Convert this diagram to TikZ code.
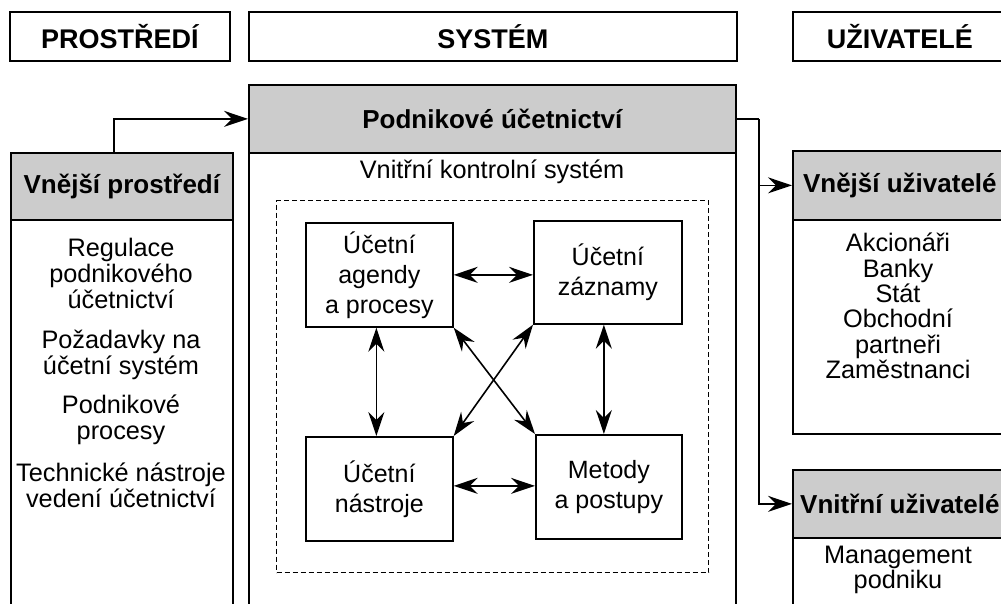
\documentclass[tikz,border=0pt]{standalone}
\usepackage{fontspec}
\setmainfont{Liberation Sans}
\usetikzlibrary{arrows.meta}
\tikzset{
  bighead/.tip={Stealth[length=24pt,width=16pt,inset=8pt]},
}
\begin{document}
\begin{tikzpicture}[x=1pt,y=-1pt,
  box/.style={draw, line width=1.7pt, anchor=north west, inner sep=0pt, fill=white},
  head/.style={box, fill=gray!40, font=\fontsize{26}{30}\selectfont\bfseries},
  title/.style={box, font=\fontsize{27}{30}\selectfont\bfseries},
  txt/.style={align=center, font=\fontsize{25.3}{26}\selectfont},
  itxt/.style={align=center, font=\fontsize{25}{30}\selectfont},
  arr/.style={line width=1.6pt, -bighead},
  darr/.style={line width=1.6pt, bighead-bighead}]
\clip (0,0) rectangle (1001,603);
\fill[white] (0,0) rectangle (1001,603);
% top titles
\node[title, minimum width=220pt, minimum height=49pt] (tprost) at (9,11) {PROSTŘEDÍ};
\node[title, minimum width=488pt, minimum height=49pt] (tsys) at (248,11) {SYSTÉM};
\node[title, minimum width=214pt, minimum height=49pt] (tuziv) at (792,11) {UŽIVATELÉ};
% left column
\node[box, minimum width=222pt, minimum height=420pt] (vpbody) at (10,219) {};
\node[head, minimum width=222pt, minimum height=67pt] (vphead) at (10,152) {Vnější prostředí};
\node[txt] (l1) at (121,273) {Regulace\\podnikového\\účetnictví};
\node[txt] (l2) at (121,354.5) {Požadavky na\\účetní systém};
\node[txt] (l3) at (121,419.5) {Podnikové\\procesy};
\node[txt] (l4) at (121,485.5) {Technické nástroje\\vedení účetnictví};
% system
\node[box, minimum width=487pt, minimum height=480pt] (pubody) at (248,152) {};
\node[head, minimum width=487pt, minimum height=68pt] (puhead) at (248,84) {Podnikové účetnictví};
\node[txt] (vks) at (492,172) {Vnitřní kontrolní systém};
\node[draw, dashed, dash pattern=on 5pt off 3pt, line width=1.4pt, anchor=north west,
      minimum width=432pt, minimum height=372pt] (dashbox) at (276,200) {};
\node[box, minimum width=147pt, minimum height=104pt, itxt] (tl) at (305,222) {Účetní\\agendy\\a procesy};
\node[box, minimum width=148pt, minimum height=103pt, itxt] (tr) at (533,220) {Účetní\\záznamy};
\node[box, minimum width=147pt, minimum height=104pt, itxt] (bl) at (305,436) {Účetní\\nástroje};
\node[box, minimum width=146pt, minimum height=104pt, itxt] (br) at (535,434) {Metody\\a postupy};
\draw[darr] (tl.east) -- (tl.east -| tr.west);
\draw[darr] ([yshift=3pt]bl.east) -- ([yshift=3pt]bl.east -| br.west);
\draw[darr] ([xshift=-3pt]tl.south) -- ([xshift=-3pt]tl.south |- bl.north);
\draw[darr] ([xshift=-4pt]tr.south) -- ([xshift=-4pt]tr.south |- br.north);
\draw[darr] (tl.south east) -- (br.north west);
\draw[darr] (tr.south west) -- (bl.north east);
% users
\node[box, minimum width=214pt, minimum height=214pt] (vubody) at (792,219) {};
\node[head, minimum width=214pt, minimum height=69pt] (vuhead) at (792,150) {Vnější uživatelé};
\node[txt, font=\fontsize{25.3}{25.4}\selectfont] (r1) at (898,306) {Akcionáři\\Banky\\Stát\\Obchodní\\partneři\\Zaměstnanci};
\node[box, minimum width=214pt, minimum height=100pt] (vnbody) at (792,537) {};
\node[head, minimum width=214pt, minimum height=68pt] (vnhead) at (792,469) {Vnitřní uživatelé};
\node[txt, font=\fontsize{25.3}{25}\selectfont] (r2) at (898,570) {Management\\podniku};
% connectors
\draw[arr] ([xshift=-8pt]vphead.north) |- (puhead.west);
\draw[line width=1.6pt] (puhead.east) -- ++(22,0) coordinate (rj);
\draw[arr] (rj) |- (vuhead.west);
\draw[arr] (rj) |- (vnhead.west);
\end{tikzpicture}
\end{document}
